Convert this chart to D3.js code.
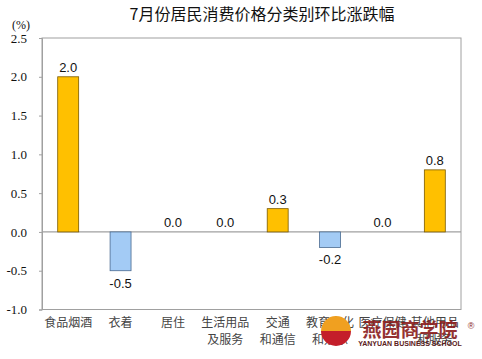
<!DOCTYPE html>
<html><head><meta charset="utf-8">
<script src="https://cdn.jsdelivr.net/npm/d3@7/dist/d3.min.js"></script>
<style>body{margin:0;background:#fff}svg{display:block}</style>
</head><body>
<script>
const categories = [["食品烟酒"],["衣着"],["居住"],["生活用品","及服务"],["交通","和通信"],["教育文化","和娱乐"],["医疗保健"],["其他用品","和服务"]];
const values = [2.0,-0.5,0.0,0.0,0.3,-0.2,0.0,0.8];
const yTicks = [-1.0,-0.5,0.0,0.5,1.0,1.5,2.0,2.5];
const title = "7月份居民消费价格分类别环比涨跌幅";

const W=482,H=359, L=42, R=461, T=38, B=309.5;
const fmt = v => d3.format(".1f")(v).replace("\u2212","-");
const svg=d3.select("body").append("svg").attr("width",W).attr("height",H);
const x=d3.scaleBand().domain(d3.range(categories.length)).range([L,R]).paddingInner(0.6).paddingOuter(0.3);
const y=d3.scaleLinear().domain([-1,2.5]).range([B,T]);

svg.append("text").attr("x",262).attr("y",20).attr("text-anchor","middle")
  .attr("font-family","Noto Sans CJK SC").attr("font-size",16).attr("fill","#111").text(title);
svg.append("text").attr("x",21).attr("y",29).attr("text-anchor","middle")
  .attr("font-family","Liberation Serif").attr("font-size",12).attr("fill","#111").text("(%)");

svg.append("rect").attr("x",L).attr("y",T).attr("width",R-L).attr("height",B-T)
  .attr("fill","none").attr("stroke","#a0a0a0").attr("stroke-width",1);

const ax=svg.append("g").attr("transform",`translate(${L},0)`)
  .call(d3.axisLeft(y).tickValues(yTicks).tickSize(3).tickPadding(12).tickFormat(fmt));
ax.select(".domain").attr("stroke","#a0a0a0");
ax.selectAll(".tick line").attr("stroke","#a0a0a0");
ax.selectAll(".tick text").attr("font-family","Liberation Serif").attr("font-size",13).attr("fill","#111");

svg.append("line").attr("x1",L).attr("x2",R).attr("y1",y(0)).attr("y2",y(0)).attr("stroke","#a0a0a0").attr("stroke-width",1.2);

const bw=x.bandwidth();
svg.selectAll("rect.bar").data(values).enter().append("rect").attr("class","bar")
  .attr("x",(d,i)=>x(i)).attr("width",bw)
  .attr("y",d=>y(Math.max(0,d))).attr("height",d=>Math.abs(y(d)-y(0)))
  .attr("fill",d=>d>=0?"#FFC000":"#A3CBF5")
  .attr("stroke",d=>d>=0?"#7a5a00":"#4a6a90").attr("stroke-width",0.8)
  .attr("display",d=>d===0?"none":null);

svg.selectAll("text.val").data(values).enter().append("text").attr("class","val")
  .attr("x",(d,i)=>x(i)+bw/2).attr("text-anchor","middle")
  .attr("y",d=>d<0?y(d)+17:y(d)-5)
  .attr("font-family","Liberation Sans").attr("font-size",13).attr("fill","#111")
  .text(d=>fmt(d));

const cl=svg.selectAll("text.cat").data(categories).enter().append("text").attr("class","cat")
  .attr("text-anchor","middle").attr("font-family","Noto Sans CJK SC").attr("font-size",12).attr("fill","#444");
cl.each(function(d,i){
  d3.select(this).selectAll("tspan").data(d).enter().append("tspan")
    .attr("x",x(i)+bw/2).attr("y",(t,j)=>327+j*17).text(t=>t);
});

// watermark
const wm=svg.append("g");
wm.append("path").attr("d",d3.arc()({innerRadius:0,outerRadius:15,startAngle:-Math.PI/2,endAngle:Math.PI/2})).attr("transform","translate(336,331)").attr("fill","#F0A020");
wm.append("path").attr("d",d3.arc()({innerRadius:0,outerRadius:15,startAngle:Math.PI/2,endAngle:Math.PI*1.5})).attr("transform","translate(336,331)").attr("fill","#C41E2A");
wm.append("text").attr("x",410).attr("y",337).attr("text-anchor","middle").attr("font-family","Noto Sans CJK SC").attr("font-weight","bold").attr("font-size",19).attr("fill","#8a1c1c").attr("opacity",0.9).text("燕园商学院");
wm.append("text").attr("x",410).attr("y",346).attr("text-anchor","middle").attr("font-family","Liberation Sans").attr("font-weight","bold").attr("font-size",7).attr("fill","#5a2020").text("YANYUAN BUSINESS SCHOOL");
wm.append("text").attr("x",471).attr("y",329).attr("text-anchor","middle").attr("font-family","Liberation Sans").attr("font-size",9).attr("fill","#8a1c1c").text("®");
</script>
</body></html>
